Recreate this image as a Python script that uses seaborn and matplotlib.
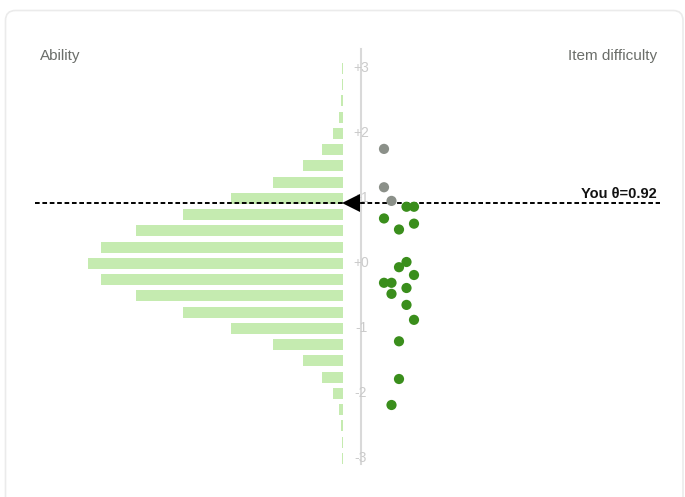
import matplotlib.pyplot as plt
import seaborn as sns
import pandas as pd
from matplotlib.patches import FancyBboxPatch
from matplotlib.transforms import IdentityTransform

# Ability distribution: relative share per 0.25 bin
ability_bins = [-3.0, -2.75, -2.5, -2.25, -2.0, -1.75, -1.5, -1.25, -1.0, -0.75, -0.5, -0.25,
                0.0, 0.25, 0.5, 0.75, 1.0, 1.25, 1.5, 1.75, 2.0, 2.25, 2.5, 2.75, 3.0]
ability_share = [0.4, 0.4, 0.8, 1.6, 3.9, 8.2, 15.7, 27.5, 43.9, 62.7, 81.2, 94.9,
                 100, 94.9, 81.2, 62.7, 43.9, 27.5, 15.7, 8.2, 3.9, 1.6, 0.8, 0.4, 0.4]

# Item difficulties and their jitter column
item_difficulty = [1.76, 1.17, 0.96, 0.87, 0.87, 0.69, 0.61, 0.52, 0.02, -0.06,
                   -0.18, -0.30, -0.30, -0.38, -0.47, -0.64, -0.87, -1.20, -1.78, -2.18]
item_col = [-2, -2, -1, 1, 2, -2, 2, 0, 1, 0, 2, -2, -1, 1, -1, 1, 2, 0, 0, -1]

theta = 0.92
tick_vals = [3, 2, 1, 0, -1, -2, -3]
tick_text = ["+3", "+2", "+1", "+0", "-1", "-2", "-3"]

sns.set_style("white")
plt.rcParams["font.family"] = ["Liberation Sans", "DejaVu Sans"]

W, H = 685, 497
PX = 2.55        # pixels per share unit
PY = 65.0        # pixels per theta unit
bar_edge = 343   # pixel x of bar right edge
zero_y = 263.3   # pixel y of theta = 0

fig = plt.figure(figsize=(W / 100, H / 100), dpi=100)
left_px, right_px, top_px, bot_px = 35, 660, 40, 470
ax = fig.add_axes([left_px / W, (H - bot_px) / H, (right_px - left_px) / W, (bot_px - top_px) / H])
ax.set_xlim(-(bar_edge - left_px) / PX, (right_px - bar_edge) / PX)
ax.set_ylim(-(bot_px - zero_y) / PY, (zero_y - top_px) / PY)
ax.patch.set_alpha(0)

# card
card = FancyBboxPatch((5.5, -20), 677.5, H - 10.5 + 20, boxstyle="round,pad=0,rounding_size=10",
                      transform=IdentityTransform(), facecolor="white", edgecolor="#ebebeb",
                      linewidth=1.2, zorder=-10)
fig.patches.append(card)

# ability histogram (bars extend left of the edge)
ax.barh(ability_bins, [-v for v in ability_share], height=0.17, color="#c5ebb0", linewidth=0, zorder=1)

# vertical scale line
spine_x = (361 - bar_edge) / PX
for s in ["top", "right", "bottom"]:
    ax.spines[s].set_visible(False)
ax.spines["left"].set_position(("data", spine_x))
ax.spines["left"].set_bounds(-3.08, 3.29)
ax.spines["left"].set_color("#d9d9d9")
ax.spines["left"].set_linewidth(1.5)
ax.spines["left"].set_zorder(2)
ax.set_xticks([])
ax.set_yticks([])
for v, t in zip(tick_vals, tick_text):
    ax.text(spine_x, v, t, ha="center", va="center", fontsize=10, color="#cbcbcb", zorder=3)

# items
df = pd.DataFrame({"difficulty": item_difficulty, "col": item_col})
df["x"] = (399 - bar_edge) / PX + df["col"] * 7.5 / PX
df["status"] = ["above" if d > theta else "below" for d in df["difficulty"]]
sns.scatterplot(data=df, x="x", y="difficulty", hue="status",
                palette={"above": "#8b9089", "below": "#3a8e1c"},
                s=54, linewidth=0, legend=False, zorder=5, ax=ax)
ax.set_xlabel("")
ax.set_ylabel("")

# ability line and marker
ax.axhline(theta, color="black", linewidth=1.4, linestyle=(0, (2.4, 1.4)), zorder=4)
ax.plot([(-1.5 + 9) / PX], [theta], marker="<", markersize=13, color="black",
        markeredgewidth=0, zorder=6)
ax.text((657 - bar_edge) / PX, theta + 5 / PY, f"You θ={theta}", ha="right", va="baseline",
        fontsize=10.5, fontweight="bold", color="#111111")

fig.text(40 / W, 1 - 60 / H, "Ability", ha="left", va="baseline", fontsize=11, color="#6b6e6a")
fig.text(657 / W, 1 - 60 / H, "Item difficulty", ha="right", va="baseline", fontsize=11, color="#6b6e6a")

plt.savefig("out.png", dpi=100)
